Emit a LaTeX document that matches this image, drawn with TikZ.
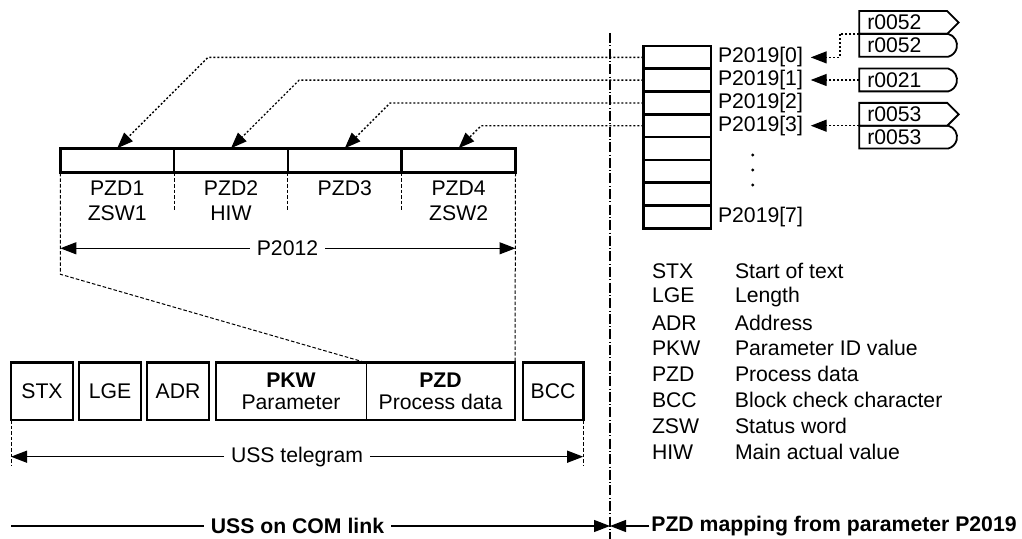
\documentclass[tikz,border=0pt]{standalone}
\usepackage{fontspec}
\setmainfont{Liberation Sans}
\usetikzlibrary{shapes.symbols,shapes.misc,arrows.meta,positioning,calc}

\begin{document}
\begin{tikzpicture}[
    x=0.5pt, y=-0.5pt,
    >={Triangle[length=8pt,width=6pt]},
    every node/.style={font=\fontsize{10.6}{12.5}\selectfont, outer sep=0pt},
    bold/.style={font=\fontsize{10.6}{12.5}\selectfont\bfseries},
    cell/.style={
      rectangle,
      draw,
      line width=1.3pt,
      minimum width=56.9pt,
      minimum height=12.25pt,
      inner sep=0pt
    },
    frame/.style={
      rectangle,
      draw,
      line width=1.3pt,
      minimum width=31pt,
      minimum height=28.65pt,
      inner sep=0pt
    },
    field/.style={
      rectangle,
      minimum height=28.65pt,
      inner sep=0pt,
      align=center,
      font=\fontsize{10.6}{11.2}\selectfont
    },
    slot/.style={
      rectangle,
      draw,
      line width=1.3pt,
      minimum width=33.85pt,
      minimum height=11.4pt,
      inner sep=0pt
    },
    source/.style={
      draw,
      line width=0.9pt,
      text width=36pt,
      align=left,
      inner xsep=4pt,
      inner ysep=0pt,
      minimum height=11.4pt
    },
    sigout/.style={source, signal, signal pointer angle=90},
    sigin/.style={source, text width=39.5pt, rounded rectangle, rounded rectangle left arc=none, rounded rectangle arc length=150},
    link/.style={draw, ->, line width=0.7pt, dash pattern=on 1pt off 1pt},
    ext/.style={draw, line width=0.5pt, dash pattern=on 1.8pt off 1pt},
    dim/.style={draw, ->, line width=0.6pt},
    dimlabel/.style={inner xsep=3.5pt, inner ysep=0pt},
    border/.style={draw, line width=0.6pt, dash pattern=on 5pt off 1.2pt on 0.4pt off 1.2pt},
    legend/.style={inner sep=0pt, anchor=west},
]
    \useasboundingbox (0,0) rectangle (1022,539);

    % PZD words sent back
    \node [cell] (c1) at (117.2,160.5) {};
    \node [cell, right of=c1, node distance=56.9pt] (c2) {};
    \node [cell, right of=c2, node distance=56.9pt] (c3) {};
    \node [cell, right of=c3, node distance=56.9pt] (c4) {};

    \node [below=4.1pt of c1, align=center, inner sep=0pt] (n1) {PZD1\\ZSW1};
    \node [below=4.1pt of c2, align=center, inner sep=0pt] (n2) {PZD2\\HIW};
    \node [below=4.1pt of c3, align=center, inner sep=0pt] (n3) {PZD3};
    \node [below=4.1pt of c4, align=center, inner sep=0pt] (n4) {PZD4\\ZSW2};

    \path [ext] (c1.south east) -- ++(0,37.5);
    \path [ext] (c2.south east) -- ++(0,37.5);
    \path [ext] (c3.south east) -- ++(0,37.5);

    \node [dimlabel] (p2012) at (287.5,248.3) {P2012};
    \path [dim] (p2012.west) -- (p2012.west -| c1.south west);
    \path [dim] (p2012.east) -- (p2012.east -| c4.south east);

    % USS telegram
    \node [frame] (stx) at (42,391.3) {STX};
    \node [frame, right of=stx, node distance=34pt] (lge) {LGE};
    \node [frame, right of=lge, node distance=34pt] (adr) {ADR};
    \node [field, minimum width=75pt, right of=adr, node distance=56.5pt] (pkw) {\textbf{PKW}\\Parameter};
    \node [field, minimum width=74.5pt, right of=pkw, node distance=74.75pt] (pzd) {\textbf{PZD}\\Process data};
    \node [frame, minimum width=30.2pt, right of=pzd, node distance=56.25pt] (bcc) {BCC};
    \draw [line width=1.3pt] (pkw.north west) rectangle (pzd.south east);
    \draw [line width=0.5pt] (pkw.north east) -- (pkw.south east);

    \path [ext] (c1.south west) -- ++(0,101.5) -- (pkw.north east);
    \path [ext] (c4.south east) -- (pzd.north east);

    \node [dimlabel] (tel) at (297,456.7) {USS telegram};
    \path [dim] (tel.west) -- (tel.west -| stx.south west);
    \path [dim] (tel.east) -- (tel.east -| bcc.south east);
    \path [ext] (stx.south west) -- ++(0,45);
    \path [ext] (bcc.south east) -- ++(0,45);

    % divider between both sides
    \coordinate (divtop) at (610,33);
    \coordinate (divbot) at (610,539);
    \path [border] (divtop) -- (divbot);

    \node [dimlabel, bold] (com) at (297.5,526) {USS on COM link};
    \draw [line width=0.6pt] (com.west) -- (com.west -| stx.west);
    \path [dim] (com.east) -- (com.east -| divtop);
    \node [dimlabel, bold, inner xsep=1pt] (map) at (834,526) {PZD mapping from parameter P2019};
    \path [dim] (map.west) -- (map.west -| divtop);

    % P2019 index array
    \node [slot] (a0) at (677.2,57.4) {};
    \node [slot, below of=a0, node distance=11.4pt] (a1) {};
    \node [slot, below of=a1, node distance=11.4pt] (a2) {};
    \node [slot, below of=a2, node distance=11.4pt] (a3) {};
    \node [slot, below of=a3, node distance=11.4pt] (a4) {};
    \node [slot, below of=a4, node distance=11.4pt] (a5) {};
    \node [slot, below of=a5, node distance=11.4pt] (a6) {};
    \node [slot, below of=a6, node distance=11.4pt] (a7) {};

    \node [inner sep=0pt, right=3.5pt of a0] (l0) {P2019[0]};
    \node [inner sep=0pt, right=3.5pt of a1] (l1) {P2019[1]};
    \node [inner sep=0pt, right=3.5pt of a2] (l2) {P2019[2]};
    \node [inner sep=0pt, right=3.5pt of a3] (l3) {P2019[3]};
    \node [inner sep=0pt, right=3.5pt of a7] (l7) {P2019[7]};
    \fill (752.7,155) circle (0.8pt);
    \fill (752.7,170) circle (0.8pt);
    \fill (752.7,185) circle (0.8pt);

    \path [link] (a0.west) -- ($(c1.north)+(90.85,-90.85)$) -- (c1.north);
    \path [link] (a1.west) -- ($(c2.north)+(68.05,-68.05)$) -- (c2.north);
    \path [link] (a2.west) -- ($(c3.north)+(45.25,-45.25)$) -- (c3.north);
    \path [link] (a3.west) -- ($(c4.north)+(22.45,-22.45)$) -- (c4.north);

    % signal sources
    \node [sigout] (r52a) at (903.3,22.5) {r0052};
    \node [sigin, anchor=west] (r52b) at ([yshift=-11.4pt]r52a.west) {r0052};
    \node [sigin, anchor=west] (r21) at (859.3,80) {r0021};
    \node [sigout] (r53a) at (903.3,114.3) {r0053};
    \node [sigin, anchor=west] (r53b) at ([yshift=-11.4pt]r53a.west) {r0053};

    \path [link] (r52a.west |- r52b.north) -- ++(-9.7pt,0) |- ([xshift=3.9pt]l0.east);
    \path [link] (r21.west) -- ([xshift=3.9pt]l1.east |- r21.west);
    \path [link] (r53a.west |- r53b.north) -- ([xshift=3.9pt]l3.east |- r53b.north);

    % abbreviations
    \node [legend] (kstx) at (652,270.7) {\makebox[41.5pt][l]{STX}Start of text};
    \node [legend] (klge) at (652,296.6) {\makebox[41.5pt][l]{LGE}Length};
    \node [legend] (kadr) at (652,322.5) {\makebox[41.5pt][l]{ADR}Address};
    \node [legend] (kpkw) at (652,348.4) {\makebox[41.5pt][l]{PKW}Parameter ID value};
    \node [legend] (kpzd) at (652,374.3) {\makebox[41.5pt][l]{PZD}Process data};
    \node [legend] (kbcc) at (652,400.2) {\makebox[41.5pt][l]{BCC}Block check character};
    \node [legend] (kzsw) at (652,426.1) {\makebox[41.5pt][l]{ZSW}Status word};
    \node [legend] (khiw) at (652,452) {\makebox[41.5pt][l]{HIW}Main actual value};

\end{tikzpicture}
\end{document}
